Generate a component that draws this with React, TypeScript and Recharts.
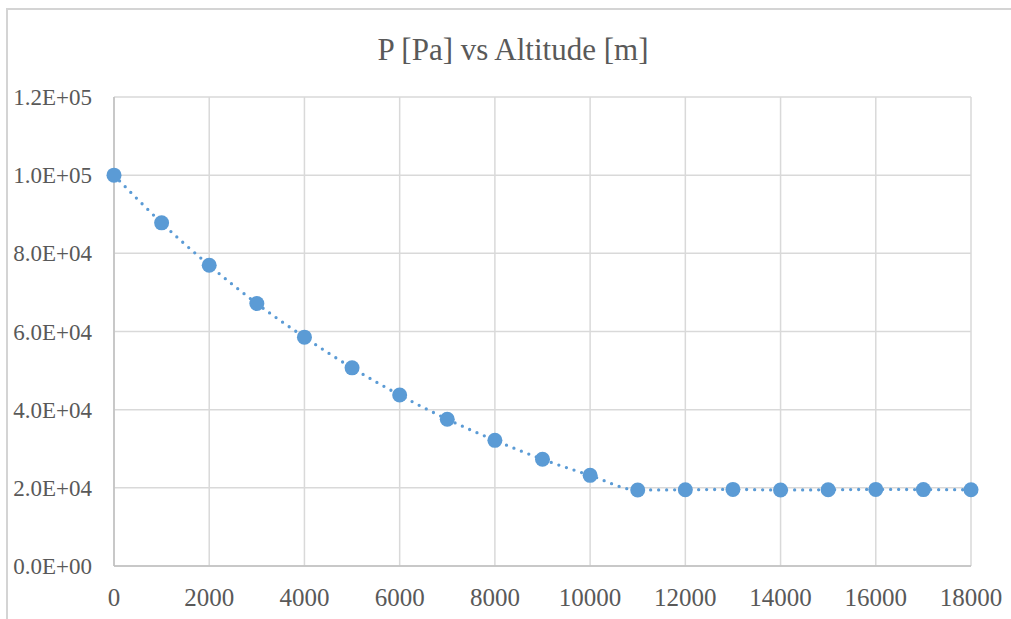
import React from "react";
import { ComposedChart, Line, XAxis, YAxis, CartesianGrid } from "recharts";

const altitudes = [0, 1000, 2000, 3000, 4000, 5000, 6000, 7000, 8000, 9000, 10000, 11000, 12000, 13000, 14000, 15000, 16000, 17000, 18000];
const pressures = [100000, 87800, 76950, 67150, 58550, 50700, 43750, 37550, 32150, 27300, 23200, 19450, 19500, 19600, 19450, 19500, 19600, 19550, 19500];
const xTicks = [0, 2000, 4000, 6000, 8000, 10000, 12000, 14000, 16000, 18000];
const yTicks = [0, 20000, 40000, 60000, 80000, 100000, 120000];
const title = "P [Pa] vs Altitude [m]";

const data = altitudes.map((a, i) => ({ alt: a, p: pressures[i] }));

const fmtExp = (v: number) => {
  if (v === 0) return "0.0E+00";
  const e = Math.floor(Math.log10(Math.abs(v)));
  const m = v / Math.pow(10, e);
  const sign = e < 0 ? "-" : "+";
  return `${m.toFixed(1)}E${sign}${String(Math.abs(e)).padStart(2, "0")}`;
};

const FONT = "'Liberation Serif', serif";
const TEXT = "#595959";
const BLUE = "#5B9BD5";

export default function App() {
  return (
    <div style={{ position: "absolute", left: 0, top: 0, width: 1011, height: 619, overflow: "hidden", background: "#fff" }}>
      <div
        style={{
          position: "absolute",
          left: 6,
          top: 8,
          width: 1030,
          height: 700,
          borderLeft: "2px solid #D4D4D4",
          borderTop: "2px solid #D4D4D4",
          boxSizing: "border-box",
        }}
      />
      <div
        style={{
          position: "absolute",
          left: 0,
          width: 1026,
          top: 30,
          textAlign: "center",
          fontFamily: FONT,
          fontSize: 31,
          color: TEXT,
          lineHeight: "40px",
        }}
      >
        {title}
      </div>
      <div style={{ position: "absolute", left: 0, top: 0 }}>
        <ComposedChart width={1011} height={619} data={data} margin={{ top: 97, right: 40, bottom: 0, left: 0 }}>
          <CartesianGrid stroke="#D9D9D9" strokeWidth={1.5} />
          <XAxis
            dataKey="alt"
            type="number"
            domain={[0, 18000]}
            ticks={xTicks}
            interval={0}
            tickLine={false}
            tickSize={0}
            tickMargin={22}
            axisLine={{ stroke: "#BFBFBF", strokeWidth: 1.5 }}
            tick={{ fill: TEXT, fontSize: 25, fontFamily: FONT }}
            height={53}
          />
          <YAxis
            type="number"
            domain={[0, 120000]}
            ticks={yTicks}
            interval={0}
            width={114}
            tickLine={false}
            tickSize={0}
            tickMargin={22}
            tickFormatter={fmtExp}
            axisLine={{ stroke: "#BFBFBF", strokeWidth: 1.5 }}
            tick={{ fill: TEXT, fontSize: 23, fontFamily: FONT }}
          />
          <Line
            dataKey="p"
            type="monotone"
            stroke={BLUE}
            strokeWidth={3.3}
            strokeDasharray="0 8"
            strokeLinecap="round"
            dot={{ r: 7.5, fill: BLUE, stroke: "none", strokeDasharray: "none" }}
            activeDot={false}
            isAnimationActive={false}
          />
        </ComposedChart>
      </div>
    </div>
  );
}
